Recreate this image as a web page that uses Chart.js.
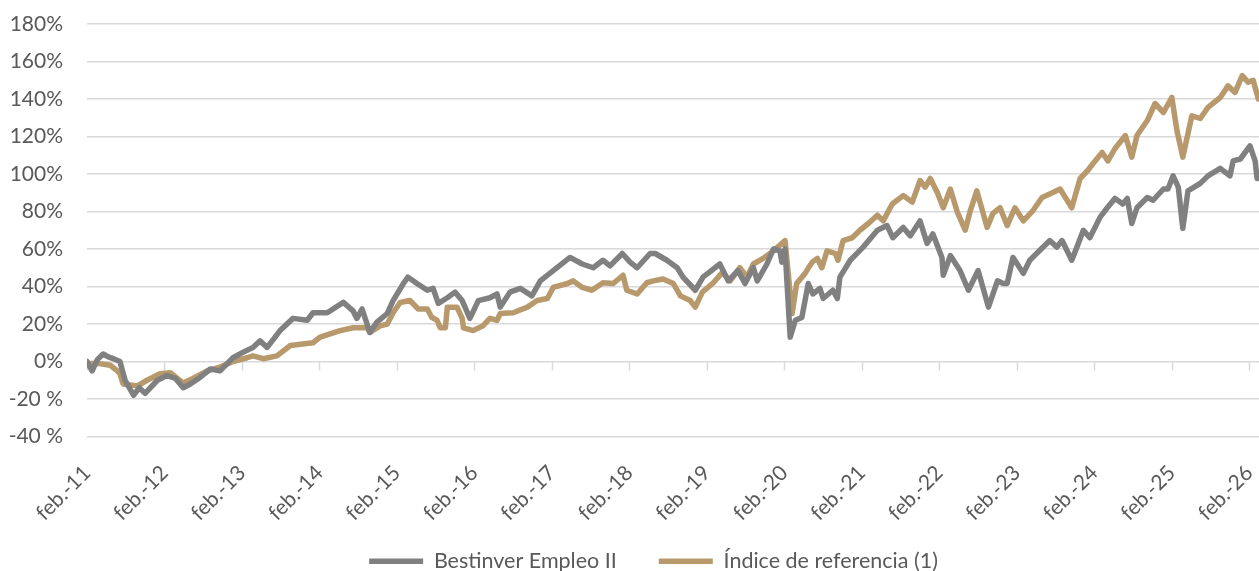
<!DOCTYPE html>
<html lang="es">
<head>
<meta charset="utf-8">
<title>Bestinver Empleo II vs Índice de referencia</title>
<script src="https://cdn.jsdelivr.net/npm/chart.js@4.4.1/dist/chart.umd.min.js"></script>
<style>
  html, body { margin: 0; padding: 0; background: #ffffff; }
  #wrap { width: 1259px; height: 571px; position: relative; }
</style>
</head>
<body>
<div id="wrap"><canvas id="grafica"></canvas></div>
<script>
// Meses desde feb.-11 (0 = feb.-11, 12 = feb.-12, ...)
const fundMonths = [
  0, 0.8, 1.6, 2.5, 3.3, 4.1, 5.1, 5.9, 7.2, 8.1, 9.0, 10.9, 12.4, 13.7, 14.9, 16.0,
  17.5, 19.1, 20.6, 22.6, 24.2, 25.7, 26.8, 27.9, 29.9, 31.9, 34.1, 35.0, 37.2, 39.7,
  41.2, 41.8, 42.6, 43.8, 44.9, 46.5, 47.4, 49.0, 49.7, 51.1, 52.7, 53.6, 54.4, 55.8,
  57.0, 58.1, 59.3, 60.6, 62.4, 63.5, 64.0, 65.5, 67.1, 68.9, 70.2, 72.2, 74.8, 76.7,
  78.4, 79.9, 81.0, 82.9, 84.1, 85.2, 87.2, 88.0, 89.8, 91.4, 92.3, 94.2, 95.4, 98.0,
  99.3, 100.8, 101.9, 103.2, 103.8, 105.3, 106.3, 107.3, 107.6, 108.1, 108.9, 109.7,
  110.7, 111.7, 112.4, 113.5, 114.0, 115.5, 116.2, 116.6, 118.2, 120.2, 122.4, 123.9,
  124.8, 126.4, 127.5, 129.0, 130.1, 131.0, 132.4, 132.6, 133.7, 135.2, 136.5, 138.0,
  139.6, 141.0, 141.9, 142.5, 143.4, 145.0, 146.0, 149.1, 150.2, 151.0, 152.5, 153.3,
  154.3, 155.3, 156.9, 158.0, 159.2, 160.4, 161.1, 161.8, 162.6, 164.2, 165.1, 166.7,
  167.4, 168.2, 169.0, 169.7, 170.5, 172.4, 173.6, 175.5, 177.0, 177.5, 178.6, 180.1,
  180.9, 181.2
];
// Bestinver Empleo II (%)
const fundValues = [
  0, -5, 1, 4, 2.5, 1.5, 0, -10, -18, -14, -17, -10, -7.5, -9, -14, -12,
  -8.5, -4, -5, 2, 5, 7.5, 11, 7.5, 16.5, 23, 22, 26, 26, 31.5,
  27, 23, 28, 15.5, 21, 25.6, 32.5, 41.6, 45, 41.6, 38, 39, 31, 34,
  37, 32.5, 23, 32.5, 34, 36, 29, 37, 39, 35, 43, 48.5, 55.5, 52,
  50, 54, 51, 57.6, 53, 50, 57.6, 57.6, 54, 50, 45, 38, 45, 52,
  43, 48.5, 41.6, 50, 43, 52, 60, 59, 53, 60, 13, 22,
  23.5, 41.6, 36, 39, 33.6, 38, 33.6, 45, 54, 61, 70, 72.5,
  66, 71.5, 67, 75, 63, 68, 55.5, 46, 56.5, 48.5, 38, 48.5,
  29, 43, 41.6, 41.6, 55.5, 47, 54, 64.5, 61, 64.5, 54, 61,
  70, 66, 77, 82, 87, 84, 87, 73.6, 82, 87.5, 86, 92,
  92, 99, 93, 71, 91, 95, 99, 103, 99, 107, 108, 115,
  107, 97.6
];

const benchMonths = [
  0, 1.6, 3.6, 4.7, 5.1, 5.6, 7.8, 9.3, 11.3, 12.9, 14.9, 16.4, 18.6, 20.6, 22.6,
  24.8, 25.7, 27.3, 29.4, 31.5, 35.0, 36.1, 39.2, 41.2, 43.4, 43.8, 45.4, 46.5, 47.4,
  48.5, 50.0, 51.3, 52.7, 53.4, 54.2, 54.7, 55.5, 55.8, 57.3, 58.1, 58.3, 59.8, 61.3,
  62.4, 63.5, 64.0, 66.0, 68.2, 69.7, 71.3, 72.2, 74.4, 75.3, 76.7, 78.2, 79.9, 81.5,
  83.0, 83.6, 85.2, 86.7, 87.7, 89.2, 90.8, 91.9, 93.4, 94.2, 95.3, 97.0, 98.4, 99.6,
  101.1, 102.2, 103.2, 104.7, 106.3, 108.1, 109.2, 109.9, 111.2, 112.3, 113.1, 113.8,
  114.6, 115.9, 116.3, 117.1, 118.5, 119.7, 121.0, 122.4, 123.3, 124.7, 126.4, 127.8,
  129.0, 129.8, 130.6, 131.7, 132.6, 133.7, 134.8, 136.0, 136.8, 137.8, 139.4, 140.3,
  141.4, 142.5, 143.7, 145.0, 146.5, 147.9, 149.5, 150.7, 151.5, 152.5, 153.8, 155.0,
  155.8, 157.2, 158.1, 159.2, 160.8, 161.8, 162.6, 164.2, 165.4, 166.7, 168.0, 168.8,
  169.7, 171.1, 172.4, 173.6, 175.5, 176.7, 177.8, 178.9, 179.8, 180.6, 181.4
];
// Índice de referencia (1) (%)
const benchValues = [
  -1, -1, -2, -5, -6.5, -12, -13, -10, -6.5, -6, -11.5, -9, -5, -3, 0,
  2, 3, 1.5, 3, 8.5, 10, 13, 16.5, 18, 18, 15.5, 19, 20, 26,
  31.5, 32.5, 28, 28, 23.5, 22, 18, 18, 29, 29, 23, 18, 16.5, 19,
  23, 22, 25.6, 26, 29, 32.5, 33.6, 39.5, 41.6, 43, 39.5, 38, 42, 41.6,
  46, 38, 36, 42, 43, 44, 41.6, 35, 32.5, 29, 37, 42, 47.5, 43,
  50, 45, 52, 55, 59, 64.5, 25.6, 41.6, 47, 53, 55, 50,
  59, 57.6, 54, 64.5, 66, 70, 73.6, 78, 75, 84, 88.5, 85,
  96.5, 93, 97.6, 90, 82, 92, 79.5, 70, 80.5, 91, 71.5, 79,
  82, 72.5, 82, 75, 80.5, 87.5, 90, 92, 87.5, 82, 97.6, 102,
  105.6, 111.5, 107, 113.6, 120.5, 109, 120.5, 128.5, 137.6, 132.8, 140.8, 123,
  109, 131, 129.6, 135.5, 140.8, 147, 143.5, 152.5, 149, 150, 140
];

// Etiquetas del eje X
const tickMonths = [0, 12, 24, 36, 48, 60, 72, 84, 96, 108, 120, 132, 144, 156, 168, 180];
const tickLabels = [
  "feb.-11", "feb.-12", "feb.-13", "feb.-14", "feb.-15", "feb.-16", "feb.-17", "feb.-18",
  "feb.-19", "feb.-20", "feb.-21", "feb.-22", "feb.-23", "feb.-24", "feb.-25", "feb.-26"
];
const seriesNames = ["Bestinver Empleo II", "Índice de referencia (1)"];

const textColor = "#595959";
const gridColor = "#d9d9d9";

const toPoints = (xs, ys) => xs.map((x, i) => ({ x: x, y: ys[i] }));

// Pequeñas marcas del eje X sobre la línea del 0%
const marcasCero = {
  id: "marcasCero",
  beforeDatasetsDraw(chart) {
    const { ctx, scales } = chart;
    const y0 = scales.y.getPixelForValue(0);
    ctx.save();
    ctx.strokeStyle = gridColor;
    ctx.lineWidth = 1.5;
    tickMonths.forEach(m => {
      const x = Math.round(scales.x.getPixelForValue(m)) + 0.5;
      ctx.beginPath();
      ctx.moveTo(x, y0);
      ctx.lineTo(x, y0 + 9);
      ctx.stroke();
    });
    ctx.restore();
  }
};

// Ajustes finos de posición: leyenda algo a la derecha y sin recortar las fechas
const ajusteLayout = {
  id: "ajusteLayout",
  afterLayout(chart) {
    const leg = chart.legend;
    leg.left += 20;
    leg.right += 20;
    chart.scales.x.bottom += 40;
  }
};

Chart.defaults.font.family = "Lato, 'Open Sans', sans-serif";
Chart.defaults.color = textColor;

new Chart(document.getElementById("grafica"), {
  type: "line",
  data: {
    datasets: [
      {
        label: seriesNames[0],
        data: toPoints(fundMonths, fundValues),
        borderColor: "#808080",
        backgroundColor: "#808080",
        borderWidth: 5.5,
        borderCapStyle: "round",
        borderJoinStyle: "round",
        pointRadius: 0,
        tension: 0
      },
      {
        label: seriesNames[1],
        data: toPoints(benchMonths, benchValues),
        borderColor: "#b8996c",
        backgroundColor: "#b8996c",
        borderWidth: 5.5,
        borderCapStyle: "round",
        borderJoinStyle: "round",
        pointRadius: 0,
        tension: 0
      }
    ]
  },
  options: {
    responsive: true,
    maintainAspectRatio: false,
    animation: false,
    layout: { padding: { left: 8, right: 0, top: 24, bottom: -11 } },
    plugins: {
      legend: {
        position: "bottom",
        labels: {
          usePointStyle: true,
          pointStyle: "line",
          pointStyleWidth: 54,
          padding: 42,
          color: textColor,
          font: { size: 21.5 }
        }
      },
      tooltip: { enabled: false }
    },
    scales: {
      x: {
        type: "linear",
        min: 0,
        max: 181.5,
        afterBuildTicks: scale => {
          scale.ticks = tickMonths.map(v => ({ value: v }));
        },
        afterFit: scale => {
          scale.paddingLeft = 0;
          scale.paddingRight = 0;
          scale.height = 72;
        },
        grid: { display: false, drawTicks: false },
        border: { display: false },
        ticks: {
          autoSkip: false,
          maxRotation: 45,
          minRotation: 45,
          padding: 24,
          color: textColor,
          font: { size: 21 },
          callback: (value, index) => tickLabels[index]
        }
      },
      y: {
        min: -40,
        max: 180,
        afterFit: scale => {
          scale.width = 79;
          scale.paddingTop = 0;
          scale.paddingBottom = 0;
        },
        grid: { color: gridColor, lineWidth: 1.5, drawTicks: false },
        border: { display: false },
        ticks: {
          stepSize: 20,
          padding: 24,
          color: textColor,
          font: { size: 21 },
          callback: v => (v < 0 ? v + " %" : v + "%")
        }
      }
    }
  },
  plugins: [marcasCero, ajusteLayout]
});
</script>
</body>
</html>
